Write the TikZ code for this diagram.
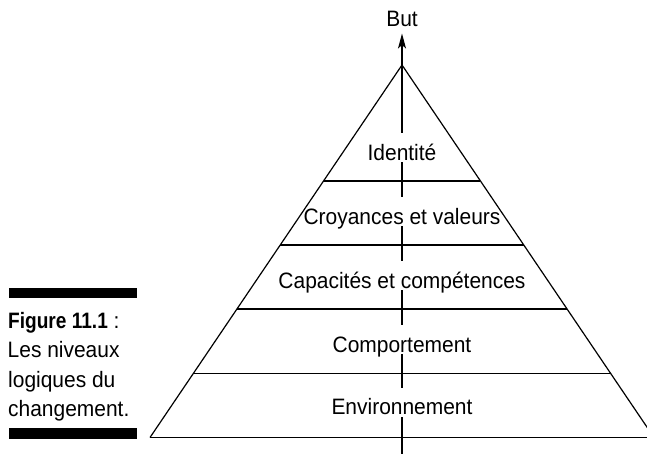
\documentclass[tikz,border=0pt]{standalone}
\usepackage{fontspec}
\setmainfont{Liberation Sans}[FakeStretch=0.94]
\usepackage{graphicx}
\usetikzlibrary{arrows.meta,calc}
\tikzset{
  lvl/.style={font=\fontsize{22.3}{26}\selectfont, fill=white, inner xsep=1pt, inner ysep=0pt,
              text height=27pt, text depth=2pt, anchor=base},
  capline/.style={font=\fontsize{22.3}{26}\selectfont, inner sep=0pt, anchor=base west},
  edge/.style={line width=1.2pt},
  bar/.style={fill=black, draw=none},
}
\begin{document}
\begin{tikzpicture}[x=1pt,y=-1pt]
\useasboundingbox (0,0) rectangle (647,453);
\clip (0,0) rectangle (647,453);
% triangle corners
\coordinate (apex) at (402,65);
\coordinate (bl) at (150,437.5);
\coordinate (br) at (654,437.5);
\coordinate (bre) at (647,437.5);
\coordinate (bottom) at (402,454);
\coordinate (tip) at (402,33.5);
% axis arrow
\draw[edge, -{Stealth[length=15pt,width=8pt,inset=3.5pt]}] (bottom) -- (tip);
% goal label
\node[font=\fontsize{22.3}{26}\selectfont, inner sep=0pt, anchor=base] (but) at (402,26) {But};
% level labels (white boxes interrupt the axis)
\node[lvl] (l1) at (402,160) {Identité};
\node[lvl] (l2) at (402,224) {Croyances et valeurs};
\node[lvl] (l3) at (402,288) {Capacités et compétences};
\node[lvl] (l4) at (402,352) {Comportement};
\node[lvl] (l5) at (402,414.5) {Environnement};
% pyramid
\draw[edge, line join=miter] (bl) -- (apex) -- (br);
\draw[edge] (bl) -- (bre);
\coordinate (a1) at ($(apex)!0.3114!(bl)$); \coordinate (b1) at ($(apex)!0.3114!(br)$);
\coordinate (a2) at ($(apex)!0.4832!(bl)$); \coordinate (b2) at ($(apex)!0.4832!(br)$);
\coordinate (a3) at ($(apex)!0.6550!(bl)$); \coordinate (b3) at ($(apex)!0.6550!(br)$);
\coordinate (a4) at ($(apex)!0.8282!(bl)$); \coordinate (b4) at ($(apex)!0.8282!(br)$);
\draw[edge] (a1) -- (b1);
\draw[edge] (a2) -- (b2);
\draw[edge] (a3) -- (b3);
\draw[edge] (a4) -- (b4);
% caption
\fill[bar] (9,287.7) rectangle (137,298.3);
\fill[bar] (9,428.3) rectangle (137,439);
\node[capline] (c1) at (8,328.3) {\scalebox{0.91}[1]{\bfseries Figure 11.1} :};
\node[capline] (c2) at (7.5,357) {Les niveaux};
\node[capline] (c3) at (8,387) {logiques du};
\node[capline] (c4) at (8,416) {changement.};
\end{tikzpicture}
\end{document}
